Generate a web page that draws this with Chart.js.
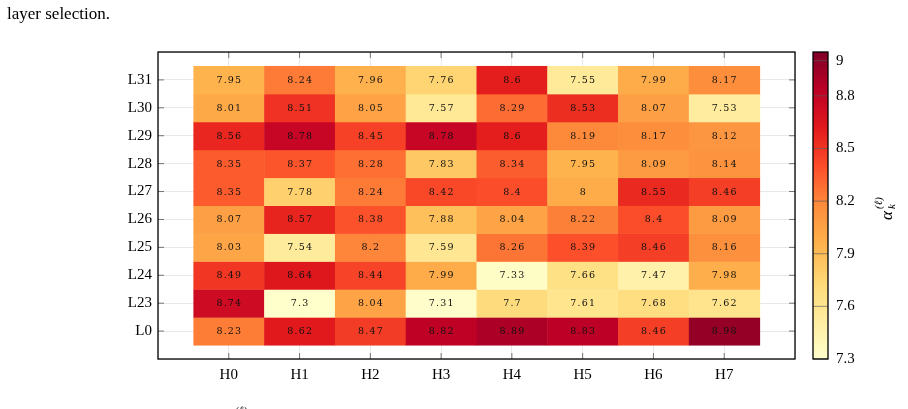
<!DOCTYPE html>
<html lang="en">
<head>
  <meta charset="UTF-8">
  <title>Layer selection heatmap</title>
  <script src="https://cdn.jsdelivr.net/npm/chart.js"></script>
  <style>
    html, body { margin: 0; padding: 0; background: #fff; overflow: hidden; }
    #chart-container { width: 908px; height: 409px; }
  </style>
</head>
<body>
  <div id="chart-container">
    <canvas id="heatmap" width="908" height="409"></canvas>
  </div>

  <script>
    // heads along x, layers along y (bottom to top)
    const heads = ['H0', 'H1', 'H2', 'H3', 'H4', 'H5', 'H6', 'H7'];
    const layers = ['L0', 'L23', 'L24', 'L25', 'L26', 'L27', 'L28', 'L29', 'L30', 'L31'];

    // alpha values per layer, H0..H7
    const rowL0  = [8.23, 8.62, 8.47, 8.82, 8.89, 8.83, 8.46, 8.98];
    const rowL23 = [8.74, 7.3, 8.04, 7.31, 7.7, 7.61, 7.68, 7.62];
    const rowL24 = [8.49, 8.64, 8.44, 7.99, 7.33, 7.66, 7.47, 7.98];
    const rowL25 = [8.03, 7.54, 8.2, 7.59, 8.26, 8.39, 8.46, 8.16];
    const rowL26 = [8.07, 8.57, 8.38, 7.88, 8.04, 8.22, 8.4, 8.09];
    const rowL27 = [8.35, 7.78, 8.24, 8.42, 8.4, 8, 8.55, 8.46];
    const rowL28 = [8.35, 8.37, 8.28, 7.83, 8.34, 7.95, 8.09, 8.14];
    const rowL29 = [8.56, 8.78, 8.45, 8.78, 8.6, 8.19, 8.17, 8.12];
    const rowL30 = [8.01, 8.51, 8.05, 7.57, 8.29, 8.53, 8.07, 7.53];
    const rowL31 = [7.95, 8.24, 7.96, 7.76, 8.6, 7.55, 7.99, 8.17];
    const rows = [rowL0, rowL23, rowL24, rowL25, rowL26, rowL27, rowL28, rowL29, rowL30, rowL31];

    // colour bar range and ticks
    const cbMin = 7.3;
    const cbMax = 9.05;
    const cbTicks = [7.3, 7.6, 7.9, 8.2, 8.5, 8.8, 9];

    // YlOrRd
    const stops = ['#ffffcc', '#ffeda0', '#fed976', '#feb24c', '#fd8d3c', '#fc4e2a', '#e31a1c', '#bd0026', '#800026'];
    const hex = h => [1, 3, 5].map(i => parseInt(h.substr(i, 2), 16));
    function colorFor(v) {
      let t = (v - cbMin) / (cbMax - cbMin);
      t = Math.max(0, Math.min(1, t)) * (stops.length - 1);
      const i = Math.min(Math.floor(t), stops.length - 2);
      const f = t - i;
      const a = hex(stops[i]), b = hex(stops[i + 1]);
      const c = a.map((x, k) => Math.round(x + (b[k] - x) * f));
      return `rgb(${c[0]},${c[1]},${c[2]})`;
    }

    const points = [];
    rows.forEach((row, yi) => row.forEach((v, xi) => points.push({ x: xi, y: yi, v: v })));

    const serif = "'Liberation Serif', 'Times New Roman', serif";

    const heatmapPlugin = {
      id: 'heatmap',
      beforeDatasetsDraw(chart) {
        const { ctx, scales: { x, y } } = chart;
        ctx.save();
        chart.data.datasets[0].data.forEach(p => {
          const x0 = x.getPixelForValue(p.x - 0.5), x1 = x.getPixelForValue(p.x + 0.5);
          const y0 = y.getPixelForValue(p.y + 0.5), y1 = y.getPixelForValue(p.y - 0.5);
          ctx.fillStyle = colorFor(p.v);
          ctx.fillRect(x0, y0, x1 - x0 + 0.5, y1 - y0 + 0.5);
        });
        ctx.restore();
      },
      afterDatasetsDraw(chart) {
        const { ctx, chartArea: a, scales: { x, y, cb } } = chart;
        ctx.save();

        // cell labels
        ctx.font = "9.5px 'DejaVu Serif', serif";
        ctx.letterSpacing = '1.2px';
        ctx.fillStyle = '#111';
        ctx.textAlign = 'center';
        ctx.textBaseline = 'middle';
        chart.data.datasets[0].data.forEach(p => {
          ctx.fillText(String(p.v), x.getPixelForValue(p.x) + 0.6, y.getPixelForValue(p.y) + 0.5);
        });
        ctx.letterSpacing = '0px';

        // inner tick marks
        ctx.strokeStyle = '#555';
        ctx.lineWidth = 0.8;
        ctx.beginPath();
        heads.forEach((h, i) => {
          const px = x.getPixelForValue(i);
          ctx.moveTo(px, a.top); ctx.lineTo(px, a.top + 6);
          ctx.moveTo(px, a.bottom); ctx.lineTo(px, a.bottom - 6);
        });
        layers.forEach((l, i) => {
          const py = y.getPixelForValue(i);
          ctx.moveTo(a.left, py); ctx.lineTo(a.left + 6, py);
          ctx.moveTo(a.right, py); ctx.lineTo(a.right - 6, py);
        });
        ctx.stroke();

        // frame
        ctx.strokeStyle = '#000';
        ctx.lineWidth = 1.3;
        ctx.strokeRect(a.left, a.top, a.right - a.left, a.bottom - a.top);

        // colour bar
        const bx = 813, bw = 15;
        const top = cb.getPixelForValue(cbMax), bot = cb.getPixelForValue(cbMin);
        const grad = ctx.createLinearGradient(0, bot, 0, top);
        for (let i = 0; i <= 40; i++) {
          grad.addColorStop(i / 40, colorFor(cbMin + (cbMax - cbMin) * i / 40));
        }
        ctx.fillStyle = grad;
        ctx.fillRect(bx, top, bw, bot - top);
        ctx.strokeStyle = 'rgba(90,90,90,0.8)';
        ctx.lineWidth = 0.8;
        ctx.beginPath();
        cbTicks.forEach(v => {
          const py = cb.getPixelForValue(v);
          ctx.moveTo(bx, py); ctx.lineTo(bx + bw, py);
        });
        ctx.stroke();
        ctx.strokeStyle = '#000';
        ctx.lineWidth = 1.3;
        ctx.strokeRect(bx, top, bw, bot - top);

        // colour bar label, rotated
        ctx.save();
        ctx.translate(892, 208);
        ctx.rotate(-Math.PI / 2);
        ctx.fillStyle = '#000';
        ctx.textBaseline = 'alphabetic';
        ctx.textAlign = 'left';
        ctx.font = "italic 17px " + serif;
        ctx.fillText('α', -12, 0);
        ctx.font = "italic 11px " + serif;
        ctx.fillText('k', -1, 3);
        ctx.fillText('(ℓ)', -1, -10);
        ctx.restore();

        // text above and cut-off text below
        ctx.fillStyle = '#000';
        ctx.textAlign = 'left';
        ctx.textBaseline = 'alphabetic';
        ctx.font = '17px ' + serif;
        ctx.fillText('layer selection.', 7, 19);
        ctx.font = 'italic 11px ' + serif;
        ctx.fillText('(ℓ)', 235, 414);

        ctx.restore();
      }
    };

    const ctx = document.getElementById('heatmap').getContext('2d');
    new Chart(ctx, {
      type: 'scatter',
      data: {
        datasets: [{
          data: points,
          pointRadius: 0,
          pointHoverRadius: 0
        }]
      },
      options: {
        responsive: false,
        animation: false,
        events: [],
        layout: { padding: { left: 88, top: 52, right: 0, bottom: 20 } },
        plugins: { legend: { display: false }, tooltip: { enabled: false } },
        scales: {
          x: {
            type: 'linear',
            min: -1,
            max: 8,
            afterFit: s => { s.height = 30; },
            afterBuildTicks: s => { s.ticks = [-1, 0, 1, 2, 3, 4, 5, 6, 7, 8].map(v => ({ value: v })); },
            grid: { color: '#e2e2e2', lineWidth: 0.8, drawTicks: false },
            border: { display: false },
            ticks: {
              autoSkip: false,
              maxRotation: 0,
              padding: 7,
              color: '#000',
              font: { family: serif, size: 15 },
              callback: v => heads[v] || ''
            }
          },
          y: {
            type: 'linear',
            min: -1,
            max: 10,
            afterFit: s => { s.width = 70; },
            afterBuildTicks: s => { s.ticks = [-1, 0, 1, 2, 3, 4, 5, 6, 7, 8, 9, 10].map(v => ({ value: v })); },
            grid: { color: '#e2e2e2', lineWidth: 0.8, drawTicks: false },
            border: { display: false },
            ticks: {
              autoSkip: false,
              padding: 6,
              color: '#000',
              font: { family: serif, size: 15 },
              callback: v => layers[v] || ''
            }
          },
          cb: {
            type: 'linear',
            position: 'right',
            min: cbMin,
            max: cbMax,
            afterFit: s => { s.width = 113; },
            afterBuildTicks: s => { s.ticks = cbTicks.map(v => ({ value: v })); },
            grid: { display: false, drawTicks: false },
            border: { display: false },
            ticks: {
              autoSkip: false,
              padding: 41,
              color: '#000',
              font: { family: serif, size: 15 },
              callback: v => String(v)
            }
          }
        }
      },
      plugins: [heatmapPlugin]
    });
  </script>
</body>
</html>
